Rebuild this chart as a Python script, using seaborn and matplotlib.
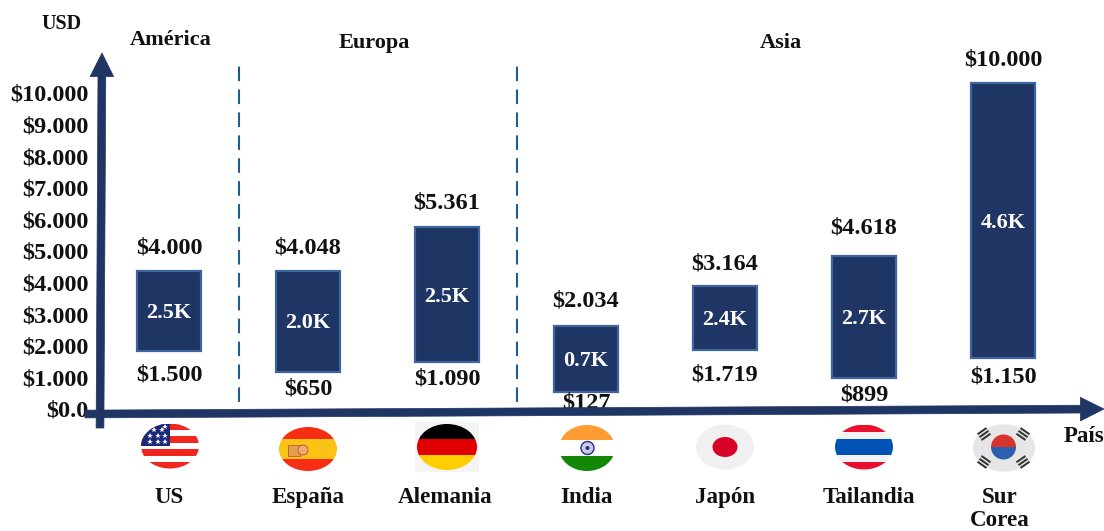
import numpy as np
import pandas as pd
import matplotlib
matplotlib.use('Agg')
import matplotlib.pyplot as plt
from matplotlib.patches import Ellipse, Rectangle, Circle, Wedge
from matplotlib.transforms import ScaledTranslation
import seaborn as sns

countries = ['US', 'España', 'Alemania', 'India', 'Japón', 'Tailandia', 'Sur\nCorea']
# bar ends as drawn against the axis (they differ a bit from the printed figures)
bar_low = [1800, 1150, 1450, 510, 1840, 950, 1580]
bar_high = [4340, 4340, 5730, 2600, 3860, 4810, 10280]
low_labels = ['$1.500', '$650', '$1.090', '$127', '$1.719', '$899', '$1.150']
high_labels = ['$4.000', '$4.048', '$5.361', '$2.034', '$3.164', '$4.618', '$10.000']
mid_labels = ['2.5K', '2.0K', '2.5K', '0.7K', '2.4K', '2.7K', '4.6K']
y_ticks = [0, 1000, 2000, 3000, 4000, 5000, 6000, 7000, 8000, 9000, 10000]
y_tick_labels = ['$0.0', '$1.000', '$2.000', '$3.000', '$4.000', '$5.000', '$6.000',
                 '$7.000', '$8.000', '$9.000', '$10.000']
regions = ['América', 'Europa', 'Asia']

NAVY = '#1f3564'
EDGE = '#3f64a0'
DASH = '#1f5f8f'
INK = '#111111'

sns.set_theme(style='white')
plt.rcParams['font.family'] = ['Liberation Serif', 'DejaVu Serif']
plt.rcParams['font.weight'] = 'bold'

W, H = 1104, 531
fig = plt.figure(figsize=(W / 100, H / 100), dpi=100)
# axes run from the y axis to the right edge, and from y=0 to the top
ax = fig.add_axes([100 / W, (H - 408) / H, (W - 100) / W, 408 / H])

df = pd.DataFrame({'pais': countries, 'alto': np.array(bar_high) - np.array(bar_low)})
sns.barplot(data=df, x='pais', y='alto', bottom=bar_low, width=0.46, color=NAVY,
            saturation=1, edgecolor=EDGE, linewidth=1.6, ax=ax)

ax.set_xlim(-69 / 139, 935 / 139)
ax.set_ylim(0, 12911)
ax.set_xlabel('')
ax.set_ylabel('')
ax.set_yticks(y_ticks)
ax.set_yticklabels(y_tick_labels)
ax.tick_params(axis='y', length=0, pad=8, labelsize=17.5, labelcolor=INK)
ax.tick_params(axis='x', length=0, pad=57, labelsize=16.6, labelcolor=INK)
label_shift = [0, 0, -2, 0, 0, 5, -3]
for t, dx in zip(ax.get_xticklabels(), label_shift):
    t.set_linespacing(1.12)
    t.set_transform(t.get_transform() + ScaledTranslation(dx / 100, 0, fig.dpi_scale_trans))
for t in ax.get_yticklabels():
    t.set_transform(t.get_transform() + ScaledTranslation(0, -1 / 100, fig.dpi_scale_trans))
sns.despine(ax=ax, left=True, bottom=True, top=True, right=True)
ax.patch.set_alpha(0)

# region separators
ax.vlines([0.5, 2.5], 190, 11050, color=DASH, lw=1.5, linestyles=(0, (7, 4)))

high_off = [23, 23, 24, 25, 22, 28, 23]
low_off = [24, 17, 17, 11, 25, 17, 19]
for i in range(len(countries)):
    ax.annotate(high_labels[i], (i, bar_high[i]), xytext=(0, high_off[i] * 0.72),
                textcoords='offset points', ha='center', va='center', fontsize=17.5, color=INK)
    ax.annotate(low_labels[i], (i, bar_low[i]), xytext=(0, -low_off[i] * 0.72),
                textcoords='offset points', ha='center', va='center', fontsize=17.5, color=INK,
                annotation_clip=False)
    ax.annotate(mid_labels[i], (i, (bar_low[i] + bar_high[i]) / 2), xytext=(0, -1.5),
                textcoords='offset points', ha='center', va='center', fontsize=16, color='white')

# overlay in pixel coordinates for the arrows, flags and loose captions
ov = fig.add_axes([0, 0, 1, 1], zorder=5)
ov.set_xlim(0, W)
ov.set_ylim(H, 0)
ov.axis('off')

for txt, x, y, fs in [('USD', 62, 24, 14.5), (regions[0], 171, 40, 16), (regions[1], 374, 43, 16),
                      (regions[2], 781, 43, 16), ('País', 1084, 436, 16.5)]:
    ov.text(x, y, txt, ha='center', va='center', fontsize=fs, color=INK)


def arrow(x0, y0, x1, y1):
    ov.annotate('', xy=(x1, y1), xytext=(x0, y0),
                arrowprops=dict(width=5.6, headwidth=17, headlength=17, shrink=0,
                                fc=NAVY, ec=NAVY, lw=0.5))


arrow(85, 414, 1104, 409)
arrow(100, 428, 102, 53)


def flag(cx, cy, w, h, stripes, bg=None):
    oval = Ellipse((cx, cy), w, h, fc='none', ec='none')
    ov.add_patch(oval)
    if bg:
        ov.add_patch(Rectangle((cx - w / 2 - 2, cy - h / 2 - 2), w + 4, h + 4, fc=bg, ec='none'))
    top = cy - h / 2
    for frac0, frac1, col in stripes:
        r = Rectangle((cx - w / 2, top + frac0 * h), w, (frac1 - frac0) * h, fc=col, ec='none')
        ov.add_patch(r)
        r.set_clip_path(oval)
    return oval


# US
us = [(i / 7, (i + 1) / 7, '#f0261f' if i % 2 == 0 else 'white') for i in range(7)]
oval = flag(170, 446, 58, 45, us)
canton = Rectangle((141, 423.5), 29, 22, fc='#1a2a78', ec='none')
ov.add_patch(canton)
canton.set_clip_path(oval)
for sx, sy in [(150, 436), (158, 436), (165, 436), (154, 430), (162, 430), (165, 427),
               (150, 442), (158, 442), (165, 442)]:
    ov.plot(sx, sy, marker='*', ms=4, color='white', mew=0)

# Spain
flag(308, 449, 58, 44, [(0, 0.28, '#f62f14'), (0.28, 0.72, '#fbc316'), (0.72, 1, '#f62f14')])
ov.add_patch(Rectangle((288, 445), 12, 11, fc='#e0a050', ec='#c9562a', lw=0.6))
ov.add_patch(Circle((303, 450), 5, fc='#e8b070', ec='#c9403a', lw=0.6))

# Germany
flag(447, 447, 60, 46, [(0, 1 / 3, '#000000'), (1 / 3, 2 / 3, '#e00000'), (2 / 3, 1, '#ffce00')],
     bg='#f4f4f4')

# India
flag(587, 448, 56, 46, [(0, 1 / 3, '#ff9c33'), (1 / 3, 2 / 3, 'white'), (2 / 3, 1, '#138808')])
ov.add_patch(Circle((587.5, 448), 6.5, fc='#c9cbe8', ec='#26307a', lw=1))
ov.add_patch(Circle((587.5, 448), 2, fc='#26307a', ec='none'))

# Japan
ov.add_patch(Ellipse((725, 447), 58, 45, fc='#f0f0f0', ec='none'))
ov.add_patch(Ellipse((725, 447), 25, 20, fc='#d80027', ec='none'))

# Thailand
flag(864, 447, 58, 45, [(0, 0.17, '#e8112d'), (0.17, 0.33, '#f2f2f2'), (0.33, 0.67, '#0052b4'),
                        (0.67, 0.83, '#f2f2f2'), (0.83, 1, '#e8112d')])

# Korea
ov.add_patch(Ellipse((1004, 448), 62, 47, fc='#e6e6e6', ec='none'))
ov.add_patch(Wedge((1003.5, 447), 12.5, 0, 180, fc='#2c5fb0', ec='none'))
ov.add_patch(Wedge((1003.5, 447), 12.5, 180, 360, fc='#d8342c', ec='none'))
for tx, ty, ang in [(984, 434, -35), (1023, 434, 35), (984, 462, 35), (1023, 462, -35)]:
    for k in (-3.5, 0, 3.5):
        dx, dy = np.cos(np.radians(ang + 90)) * k, np.sin(np.radians(ang + 90)) * k
        ov.add_patch(Rectangle((tx + dx - 5.5, ty + dy - 1), 11, 2, angle=ang,
                               rotation_point='center', fc='#333333', ec='none'))

fig.savefig('out.png', dpi=100)
